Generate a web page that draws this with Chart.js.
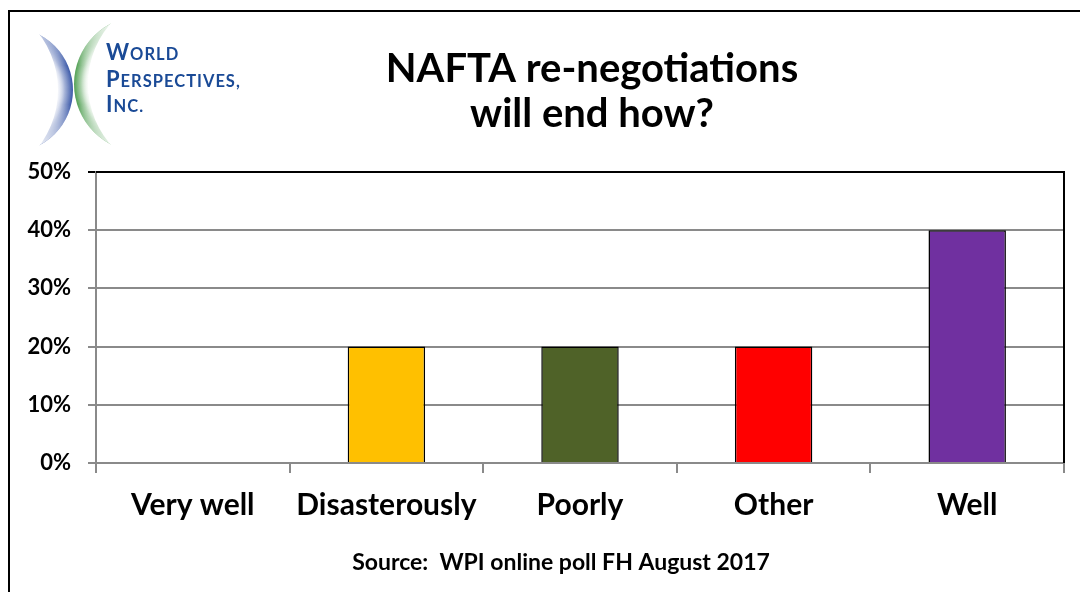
<!DOCTYPE html>
<html>
<head>
<meta charset="utf-8">
<title>NAFTA re-negotiations will end how?</title>
<script src="https://cdn.jsdelivr.net/npm/chart.js@4.4.1/dist/chart.umd.min.js"></script>
<style>
    html, body { margin: 0; padding: 0; background: #fff; }
    #wrap { position: relative; width: 1080px; height: 592px; overflow: hidden; }
    canvas { display: block; }
</style>
</head>
<body>
<div id="wrap"><canvas id="poll" width="1080" height="592"></canvas></div>
<script>
(function(){
    'use strict';

    var categories = ['Very well', 'Disasterously', 'Poorly', 'Other', 'Well'];
    var shares = [0, 20, 20, 20, 40];
    var barColors = ['#FFC000', '#FFC000', '#4F6228', '#FF0000', '#7030A0'];
    var yTickLabels = ['0%', '10%', '20%', '30%', '40%', '50%'];
    var titleLines = ['NAFTA re-negotiations', 'will end how?'];
    var sourceNote = 'Source:  WPI online poll FH August 2017';
    var logoLines = ['WORLD', 'PERSPECTIVES,', 'INC.'];

    var FONT = 'Lato, "Open Sans", sans-serif';
    var GRID = '#8a8a8a';

    // crescent = circle a minus circle b; dark on the outer rim, fading inward and at the tips
    function crescent(ctx, a, b, inner, dark){
        var off = document.createElement('canvas');
        off.width = 220;
        off.height = 170;
        var o = off.getContext('2d');

        var rg = o.createRadialGradient(a.x, a.y, inner, a.x, a.y, a.r);
        rg.addColorStop(0, 'rgba(255,255,255,0)');
        rg.addColorStop(0.55, dark.replace('1)', '0.45)'));
        rg.addColorStop(1, dark);

        o.beginPath();
        o.arc(a.x, a.y, a.r, 0, Math.PI * 2);
        o.clip();
        o.beginPath();
        o.rect(0, 0, off.width, off.height);
        o.arc(b.x, b.y, b.r, 0, Math.PI * 2);
        o.fillStyle = rg;
        o.fill('evenodd');

        var fade = o.createLinearGradient(0, 20, 0, 150);
        fade.addColorStop(0, 'rgba(0,0,0,0)');
        fade.addColorStop(0.35, 'rgba(0,0,0,1)');
        fade.addColorStop(0.65, 'rgba(0,0,0,1)');
        fade.addColorStop(1, 'rgba(0,0,0,0)');
        o.globalCompositeOperation = 'destination-in';
        o.fillStyle = fade;
        o.fillRect(0, 0, off.width, off.height);

        ctx.drawImage(off, 0, 0);
    }

    function smallCaps(ctx, word, x, y, big, small){
        ctx.font = 'bold ' + big + 'px ' + FONT;
        ctx.fillText(word.charAt(0), x, y);
        x += ctx.measureText(word.charAt(0)).width;
        ctx.font = 'bold ' + small + 'px ' + FONT;
        ctx.fillText(word.slice(1), x, y);
    }

    function drawLogo(ctx){
        crescent(ctx, {x: 10.7, y: 90, r: 62.3}, {x: -35, y: 90, r: 93}, 44, 'rgba(58,88,168,1)');
        crescent(ctx, {x: 142, y: 84, r: 68}, {x: 180.8, y: 84, r: 92.8}, 52, 'rgba(82,160,84,1)');

        ctx.save();
        ctx.fillStyle = '#1a4a96';
        ctx.textAlign = 'left';
        ctx.textBaseline = 'alphabetic';
        ctx.letterSpacing = '1px';
        smallCaps(ctx, logoLines[0], 106, 60, 22, 16.5);
        smallCaps(ctx, logoLines[1], 106, 87, 22, 16.5);
        smallCaps(ctx, logoLines[2], 106, 112, 22, 16.5);
        ctx.restore();
    }

    var slide = {
        id: 'slide',
        beforeDraw: function(chart){
            var ctx = chart.ctx;
            ctx.save();
            ctx.fillStyle = '#fff';
            ctx.fillRect(0, 0, chart.width, chart.height);

            ctx.strokeStyle = '#000';
            ctx.lineWidth = 2;
            ctx.beginPath();
            ctx.moveTo(1080, 11);
            ctx.lineTo(9, 11);
            ctx.lineTo(9, 592);
            ctx.stroke();

            drawLogo(ctx);

            ctx.fillStyle = '#000';
            ctx.textAlign = 'center';
            ctx.textBaseline = 'alphabetic';
            ctx.font = 'bold 40px ' + FONT;
            ctx.fillText(titleLines[0], 592, 82);
            ctx.fillText(titleLines[1], 592, 127);

            ctx.font = 'bold 23px ' + FONT;
            ctx.fillText(sourceNote, 561, 570);
            ctx.restore();
        },
        afterDraw: function(chart){
            var a = chart.chartArea;
            var ctx = chart.ctx;
            ctx.save();
            ctx.strokeStyle = '#000';
            ctx.lineWidth = 2;
            ctx.beginPath();
            ctx.moveTo(a.left, a.top);
            ctx.lineTo(a.right, a.top);
            ctx.lineTo(a.right, a.bottom);
            ctx.stroke();
            ctx.restore();
        }
    };

    new Chart(document.getElementById('poll'), {
        type: 'bar',
        data: {
            labels: categories,
            datasets: [{
                data: shares,
                backgroundColor: barColors,
                borderColor: '#000',
                borderWidth: 1.5,
                borderSkipped: 'start',
                barPercentage: 0.4,
                categoryPercentage: 1
            }]
        },
        options: {
            responsive: false,
            animation: false,
            layout: { padding: { top: 172, right: 16, bottom: 0, left: 0 } },
            plugins: {
                legend: { display: false },
                title: { display: false },
                tooltip: { enabled: false }
            },
            scales: {
                x: {
                    grid: {
                        offset: true,
                        drawOnChartArea: false,
                        tickLength: 10,
                        color: GRID,
                        lineWidth: 2
                    },
                    border: { color: GRID, width: 2 },
                    ticks: {
                        color: '#000',
                        font: { family: FONT, size: 30, weight: 'bold' },
                        padding: 14,
                        maxRotation: 0,
                        autoSkip: false
                    },
                    afterFit: function(scale){ scale.height = 129; }
                },
                y: {
                    min: 0,
                    max: 50,
                    grid: {
                        tickLength: 8,
                        lineWidth: 2,
                        color: function(c){
                            return c.tick && c.tick.value === 50 ? '#000' : GRID;
                        }
                    },
                    border: { color: GRID, width: 2 },
                    ticks: {
                        stepSize: 10,
                        color: '#000',
                        padding: 17,
                        font: { family: FONT, size: 22, weight: 'bold' },
                        callback: function(value, index){ return yTickLabels[index]; }
                    },
                    afterFit: function(scale){ scale.width = 96; }
                }
            }
        },
        plugins: [slide]
    });

}());
</script>
</body>
</html>
